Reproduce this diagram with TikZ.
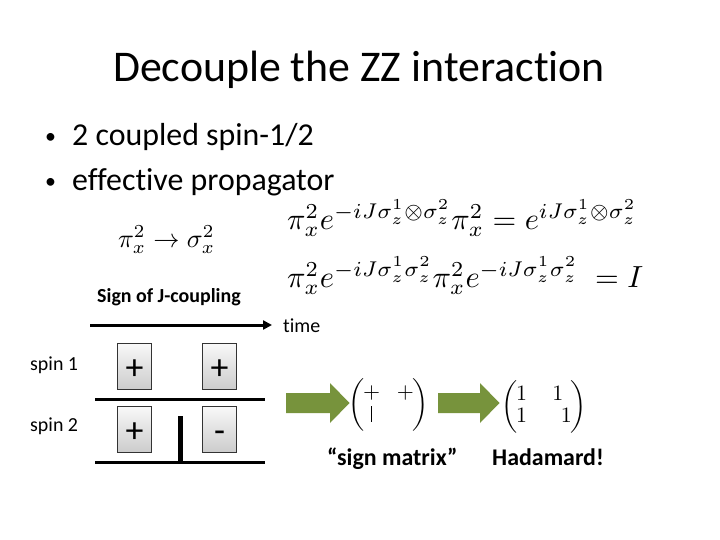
\documentclass[tikz,border=0pt]{standalone}
\usepackage{amsmath,amssymb}
\usepackage{fontspec}
\setmainfont{Carlito}[Ligatures=CommonOff]
\usetikzlibrary{positioning, calc, arrows.meta}
\definecolor{olivegreen}{RGB}{119,147,60}
\newcommand{\bulletmark}{\makebox[27bp][l]{\fontsize{22}{22}\selectfont\raisebox{2bp}{•}}}
\newcommand{\tallmat}[1]{\scalebox{2.2}{$\left(\vphantom{\rule[-10.35pt]{0pt}{25.7pt}}\kern-0.8pt
    \renewcommand{\arraystretch}{0.85}\arraycolsep=3.8pt\begin{matrix}#1\end{matrix}\kern-0.8pt\right)$}}
\tikzset{
  txt/.style={anchor=base west, inner sep=0pt},
  signbox/.style={draw=black!80, thin, top color=gray!5, bottom color=gray!40,
    minimum width=34bp, minimum height=46bp, inner sep=0pt,
    text height=27bp, text depth=0pt,
    font=\fontsize{36}{36}\selectfont},
  wire/.style={line width=3bp}
}
\begin{document}
\begin{tikzpicture}[x=1bp,y=-1bp]
    \useasboundingbox (0,0) rectangle (720,540);

    % Title
    \node[anchor=base, inner sep=0pt, font=\fontsize{44}{44}\selectfont] (title) at (359,82) {Decouple the ZZ interaction};

    % Bullets
    \node[txt, font=\fontsize{32}{32}\selectfont] (bulletA) at (45,146) {\bulletmark 2 coupled spin-1/2};
    \node[txt, font=\fontsize{32}{32}\selectfont] (bulletB) at (45,191) {\bulletmark effective propagator};

    % Equations
    \node[inner sep=0pt] (flip) at (166.5,240) {\resizebox{97bp}{!}{$\pi_x^2\rightarrow\sigma_x^2$}};
    \node[inner sep=0pt, anchor=west] (eqA) at (287,218) {\resizebox{350bp}{!}{$\pi_x^2 e^{-iJ\sigma_z^1\otimes\sigma_z^2}\pi_x^2 = e^{iJ\sigma_z^1\otimes\sigma_z^2}$}};
    \node[inner sep=0pt, anchor=west] (eqB) at (287,276) {\resizebox{356bp}{!}{$\pi_x^2 e^{-iJ\sigma_z^1\sigma_z^2}\pi_x^2 e^{-iJ\sigma_z^1\sigma_z^2}\;= I$}};

    % Time axis
    \node[txt, font=\bfseries\fontsize{20}{20}\selectfont] (signlbl) at (97,302) {Sign of J-coupling};
    \coordinate (tstart) at (90,325);
    \coordinate (tend) at (272,325);
    \draw[wire, -{Triangle[length=9bp,width=9bp]}] (tstart) -- (tend);
    \node[txt, font=\fontsize{20}{20}\selectfont] (timelbl) at (283,332) {time};

    % Spin rows
    \node[txt, font=\fontsize{20}{20}\selectfont] (spinA) at (30,370) {spin 1};
    \node[txt, font=\fontsize{20}{20}\selectfont] (spinB) at (30,431) {spin 2};
    \foreach \n/\x/\y/\s in {a/134.5/366/+, b/219.5/366/+, c/134.5/429/+, d/219.5/429/-} {
        \node[signbox] (box\n) at (\x,\y) {\s};
    }
    \coordinate (wireAl) at (95,399);
    \coordinate (wireAr) at (265,399);
    \coordinate (wireBl) at (95,462);
    \coordinate (wireBr) at (265,462);
    \draw[wire] (wireAl) -- (wireAr);
    \draw[wire] (wireBl) -- (wireBr);
    \coordinate (bartop) at (180,416);
    \coordinate (barbot) at (180,462);
    \draw[line width=5bp] (bartop) -- (barbot);

    % Block arrows
    \foreach \x/\l in {286/44, 438/42} {
        \fill[olivegreen] (\x,393) -- ++(\l,0) -- ++(0,-10) -- ++(19.5,20)
            -- ++(-19.5,20) -- ++(0,-10) -- ++(-\l,0) -- cycle;
    }

    % Matrices
    \node[inner sep=0pt] (signmat) at (388.5,405) {\tallmat{+ & + \\ \rule[-0.1ex]{0.4pt}{1.5ex} & }};
    \node[inner sep=0pt] (hadamat) at (544,407) {\tallmat{1 & 1 \\ 1 & \phantom{-}1}};
    \node[txt, font=\bfseries\fontsize{24}{24}\selectfont] (signtxt) at (327,465) {“sign matrix”};
    \node[txt, font=\bfseries\fontsize{24}{24}\selectfont] (hadatxt) at (492,465) {Hadamard!};
\end{tikzpicture}
\end{document}
